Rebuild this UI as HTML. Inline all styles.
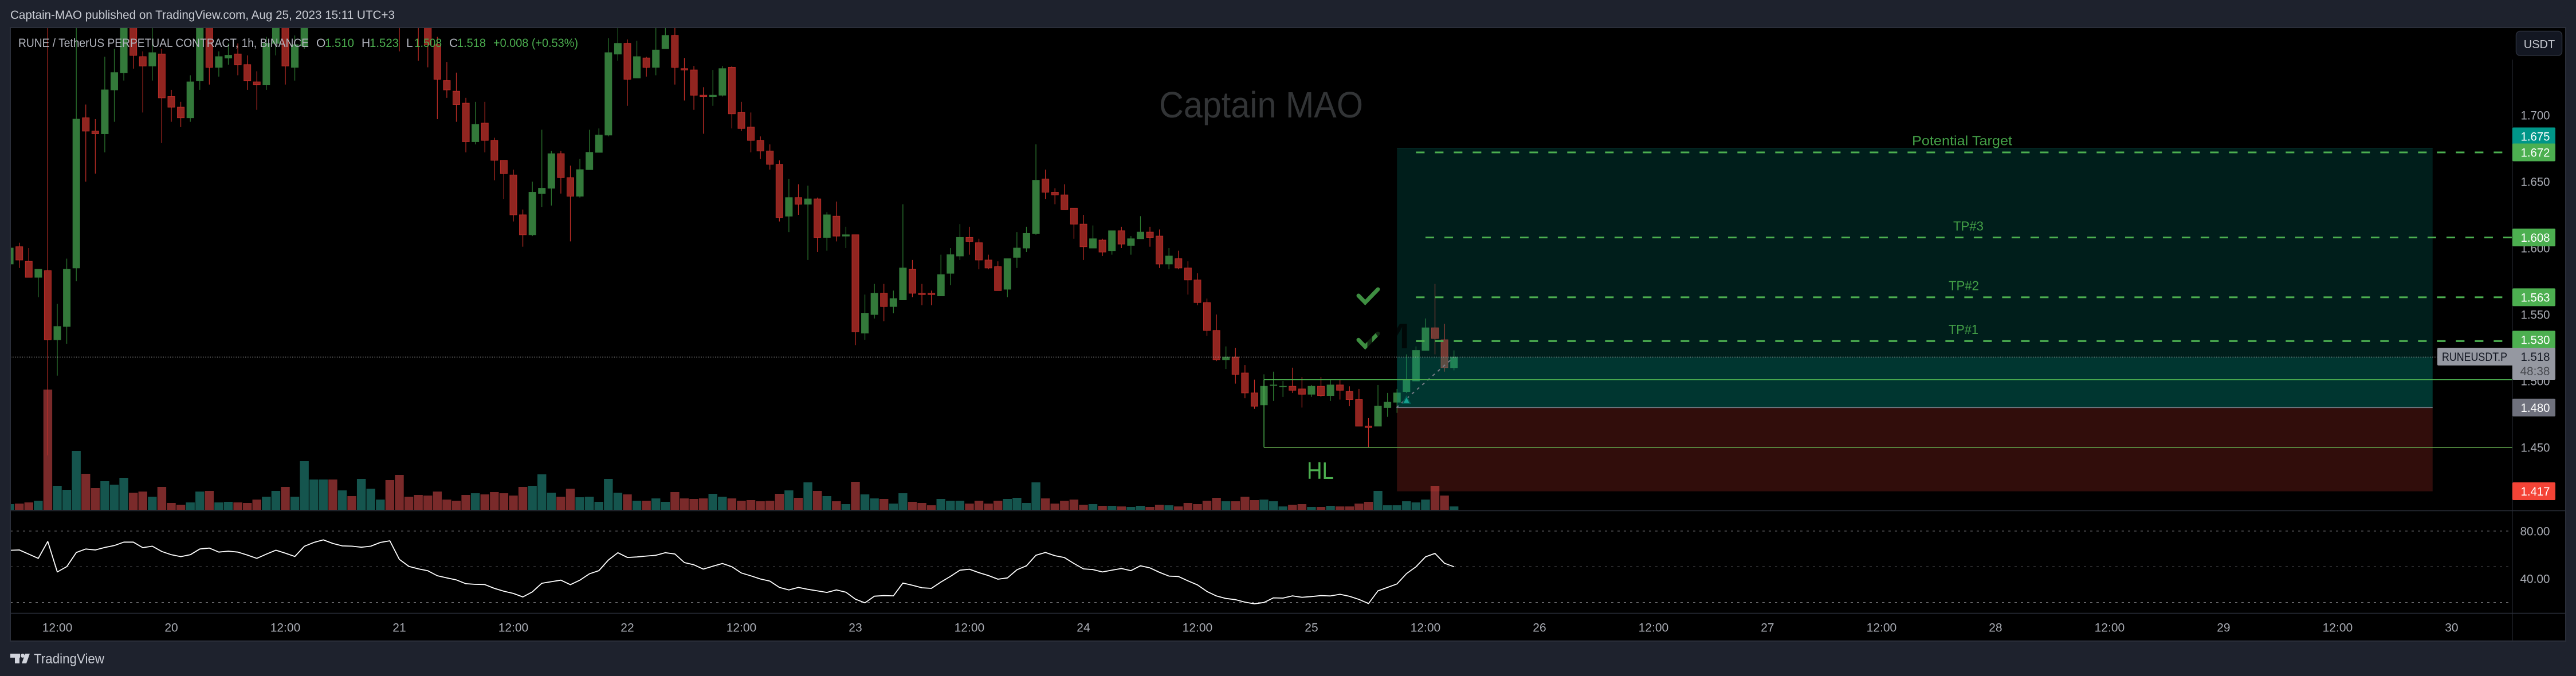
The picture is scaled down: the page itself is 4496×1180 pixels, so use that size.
<!DOCTYPE html>
<html lang="en">
<head>
<meta charset="utf-8">
<title>RUNEUSDT.P chart</title>
<style>
html,body{margin:0;padding:0;background:#1e222d;width:4496px;height:1180px;overflow:hidden}
svg{display:block}
text{font-family:"Liberation Sans",sans-serif}
</style>
</head>
<body>
<svg id="chart" width="4496" height="1180" viewBox="0 0 4496 1180" xmlns="http://www.w3.org/2000/svg">
  <defs>
    <clipPath id="main-clip"><rect x="19" y="49" width="4366" height="842"/></clipPath>
    <clipPath id="rsi-clip"><rect x="19" y="892" width="4366" height="178"/></clipPath>
  </defs>
  <rect x="0" y="0" width="4496" height="1180" fill="#1e222d"/>
  <text x="18" y="33" font-size="21" fill="#c9ccd4" textLength="671" lengthAdjust="spacingAndGlyphs">Captain-MAO published on TradingView.com, Aug 25, 2023 15:11 UTC+3</text>
  <rect x="18" y="48" width="4460" height="1071" fill="#000" stroke="#2a2e39" stroke-width="2"/>
  <g id="main-pane" clip-path="url(#main-clip)">
    <text x="2023" y="205" font-size="64" fill="#323436" textLength="356" lengthAdjust="spacingAndGlyphs">Captain MAO</text>
    <g id="volume-layer"></g>
    <g id="candle-layer"></g>
    <g id="overlay-layer"></g>
    <g id="drawing-layer"></g>
  </g>
  <g id="rsi-pane" clip-path="url(#rsi-clip)"></g>
  <line x1="18" y1="891.5" x2="4478" y2="891.5" stroke="#2a2e39" stroke-width="1.5"/>
  <line x1="18" y1="1070.5" x2="4478" y2="1070.5" stroke="#2a2e39" stroke-width="1.5"/>
  <line x1="4385" y1="104" x2="4385" y2="1119" stroke="#2a2e39" stroke-width="1"/>
  <g id="axis-layer"></g>
  <g font-size="21">
    <text x="32" y="82" fill="#b2b5be" textLength="507" lengthAdjust="spacingAndGlyphs">RUNE / TetherUS PERPETUAL CONTRACT, 1h, BINANCE</text>
    <text x="552" y="82" fill="#b2b5be">O</text>
    <text x="567" y="82" fill="#4caf50" textLength="51" lengthAdjust="spacingAndGlyphs">1.510</text>
    <text x="631" y="82" fill="#b2b5be">H</text>
    <text x="645" y="82" fill="#4caf50" textLength="51" lengthAdjust="spacingAndGlyphs">1.523</text>
    <text x="709" y="82" fill="#b2b5be">L</text>
    <text x="723" y="82" fill="#4caf50" textLength="48" lengthAdjust="spacingAndGlyphs">1.508</text>
    <text x="784" y="82" fill="#b2b5be">C</text>
    <text x="798" y="82" fill="#4caf50" textLength="50" lengthAdjust="spacingAndGlyphs">1.518</text>
    <text x="861" y="82" fill="#4caf50" textLength="148" lengthAdjust="spacingAndGlyphs">+0.008 (+0.53%)</text>
  </g>
  <g>
    <rect x="4391.5" y="54.5" width="80" height="42.5" rx="7" fill="#131722" stroke="#2a2e39" stroke-width="1.5"/>
    <text x="4432" y="84" font-size="20" fill="#c3c6ce" text-anchor="middle">USDT</text>
  </g>
  <g>
    <rect x="18" y="1141" width="17" height="7" fill="#d1d4dc"/>
    <rect x="26" y="1141" width="8" height="17" fill="#d1d4dc"/>
    <circle cx="39.5" cy="1144.5" r="3.5" fill="#d1d4dc"/>
    <polygon points="44,1141 52,1141 46,1158 38,1158" fill="#d1d4dc"/>
    <text x="59" y="1158" font-size="24" fill="#c9ccd4" textLength="123" lengthAdjust="spacingAndGlyphs">TradingView</text>
  </g>
</svg>
<script>
const firstIndex = -5;
const opens = [1.588,1.601,1.590,1.578,1.583,
1.531,1.541,1.585,1.698,1.688,1.686,1.719,1.732,1.775,1.744,
1.737,1.746,1.714,1.706,1.698,1.726,1.775,1.736,1.743,1.746,
1.738,1.725,1.723,1.754,1.775,1.736,1.752,1.78,1.80,1.82,
1.81,1.83,1.82,1.84,1.86,1.88,1.85,1.81,1.79,1.78,
1.753,1.726,1.718,1.709,1.680,1.694,1.681,1.666,1.655,1.625,
1.610,1.641,1.645,1.671,1.653,1.639,1.659,1.672,1.685,1.746,
1.754,1.728,1.743,1.736,1.750,1.760,1.735,1.734,1.715,1.714,
1.715,1.736,1.702,1.691,1.681,1.673,1.663,1.624,1.638,1.633,
1.637,1.608,1.624,1.609,1.610,1.536,1.550,1.566,1.556,1.561,
1.584,1.566,1.566,1.564,1.581,1.594,1.608,1.604,1.591,1.586,
1.569,1.593,1.600,1.611,1.652,1.642,1.640,1.630,1.618,1.600,
1.606,1.598,1.613,1.602,1.607,1.612,1.609,1.588,1.592,1.585,
1.576,1.559,1.538,1.516,1.518,1.506,1.491,1.482,1.497,1.496,
1.496,1.494,1.490,1.496,1.489,1.497,1.492,1.486,1.466,1.466,
1.480,1.484,1.492,1.500,1.523,1.540,1.531,1.510];
const closes = [1.600,1.591,1.578,1.584,1.531,
1.541,1.584,1.697,1.688,1.686,1.719,1.732,1.775,1.745,1.737,
1.747,1.713,1.706,1.698,1.725,1.775,1.736,1.744,1.745,1.738,
1.726,1.723,1.754,1.775,1.737,1.753,1.775,1.80,1.82,1.81,
1.83,1.82,1.84,1.86,1.88,1.85,1.81,1.79,1.78,1.753,
1.727,1.719,1.708,1.680,1.693,1.681,1.666,1.656,1.625,1.610,
1.642,1.645,1.671,1.653,1.639,1.659,1.672,1.685,1.747,1.754,
1.727,1.744,1.736,1.749,1.760,1.736,1.734,1.715,1.714,1.715,
1.735,1.701,1.690,1.681,1.673,1.663,1.623,1.638,1.633,1.637,
1.608,1.625,1.609,1.610,1.537,1.551,1.566,1.556,1.562,1.585,
1.566,1.565,1.565,1.580,1.595,1.608,1.605,1.591,1.585,1.568,
1.592,1.600,1.611,1.651,1.642,1.640,1.629,1.618,1.601,1.607,
1.597,1.613,1.603,1.607,1.612,1.608,1.588,1.594,1.585,1.576,
1.559,1.538,1.516,1.518,1.505,1.491,1.481,1.496,1.497,1.496,
1.493,1.490,1.496,1.489,1.497,1.493,1.486,1.466,1.465,1.481,
1.484,1.491,1.501,1.523,1.540,1.532,1.510,1.518];
const highs = [1.607,1.604,1.600,1.584,1.80,
1.558,1.592,1.78,1.708,1.697,1.744,1.750,1.785,1.785,1.748,
1.775,1.750,1.719,1.710,1.730,1.785,1.785,1.748,1.754,1.754,
1.745,1.733,1.759,1.785,1.785,1.760,1.785,1.81,1.83,1.83,
1.84,1.84,1.85,1.87,1.89,1.89,1.86,1.82,1.80,1.79,
1.759,1.740,1.732,1.713,1.710,1.710,1.683,1.666,1.659,1.629,
1.650,1.689,1.673,1.673,1.662,1.667,1.689,1.690,1.758,1.775,
1.757,1.756,1.744,1.775,1.775,1.775,1.743,1.737,1.721,1.734,
1.737,1.737,1.710,1.702,1.684,1.678,1.666,1.652,1.648,1.647,
1.638,1.627,1.635,1.616,1.610,1.565,1.573,1.573,1.568,1.633,
1.591,1.573,1.568,1.595,1.600,1.618,1.616,1.607,1.595,1.590,
1.592,1.612,1.616,1.678,1.659,1.645,1.648,1.630,1.625,1.617,
1.607,1.613,1.616,1.609,1.624,1.616,1.614,1.600,1.598,1.590,
1.581,1.562,1.550,1.526,1.525,1.512,1.501,1.505,1.507,1.500,
1.510,1.503,1.497,1.503,1.501,1.501,1.496,1.494,1.472,1.497,
1.491,1.494,1.520,1.526,1.547,1.573,1.543,1.523];
const lows = [1.585,1.585,1.578,1.563,1.444,
1.504,1.528,1.575,1.650,1.656,1.672,1.695,1.726,1.735,1.702,
1.726,1.679,1.695,1.691,1.695,1.719,1.723,1.729,1.738,1.730,
1.719,1.704,1.719,1.745,1.723,1.726,1.750,1.77,1.79,1.80,
1.80,1.81,1.81,1.83,1.85,1.83,1.748,1.766,1.741,1.736,
1.697,1.713,1.695,1.672,1.678,1.672,1.651,1.637,1.620,1.601,
1.609,1.631,1.632,1.641,1.605,1.638,1.659,1.672,1.684,1.741,
1.707,1.728,1.729,1.730,1.750,1.723,1.711,1.704,1.686,1.707,
1.714,1.690,1.688,1.672,1.667,1.659,1.620,1.612,1.625,1.591,
1.597,1.598,1.605,1.600,1.527,1.531,1.547,1.545,1.551,1.561,
1.563,1.557,1.557,1.564,1.572,1.591,1.595,1.584,1.584,1.568,
1.563,1.585,1.597,1.610,1.637,1.633,1.629,1.607,1.591,1.600,
1.594,1.595,1.600,1.595,1.607,1.601,1.585,1.584,1.584,1.565,
1.557,1.534,1.515,1.509,1.498,1.487,1.479,1.482,1.485,1.488,
1.491,1.480,1.488,1.488,1.485,1.486,1.481,1.466,1.450,1.466,
1.473,1.476,1.491,1.500,1.523,1.520,1.507,1.508];
const volumes = [10,11,13,16,210,42,35,103,63,38,50,44,56,30,32,23,40,12,9,13,32,33,13,14,13,12,18,23,33,40,23,85,53,53,53,34,24,54,37,18,52,61,23,26,25,32,18,16,26,29,27,31,29,25,40,42,62,30,23,37,22,23,14,54,30,27,16,16,20,14,31,20,
19,20,28,23,20,16,17,15,16,28,34,21,48,33,24,15,10,49,27,20,19,11,29,14,12,8,19,16,16,11,16,11,16,19,21,12,48,20,11,16,18,9,10,7,7,6,5,7,5,9,8,6,12,10,16,21,15,15,23,17,18,15,6,9,10,5,5,7,6,6,11,14,33,8,8,15,13,18,42,25,6];
const rsiValues = [63.8,64.1,60.6,57.0,71.3,45.6,50.1,62.0,64.9,64.1,66.2,67.8,70.7,70.7,66.0,67.3,62.8,60.1,58.5,60.1,64.9,65.7,62.3,63.1,62.3,59.8,57.0,60.6,63.9,61.4,58.6,67.2,70.4,72.6,69.6,67.5,67.3,66.4,67.3,70.4,71.8,56.2,50.3,48.2,46.6,42.4,40.6,38.9,35.7,35.2,35.0,31.8,29.4,27.5,24.6,28.8,36.1,37.4,38.7,34.9,38.7,44.0,46.7,55.6,61.8,57.8,58.2,59.0,59.6,61.8,60.7,53.5,
51.6,48.0,50.4,52.7,50.0,44.7,42.3,39.7,37.9,32.6,30.5,32.6,31.0,29.7,28.4,30.5,28.6,22.7,19.6,25.2,25.7,25.5,36.3,34.4,32.3,31.8,37.1,41.9,47.1,47.9,45.0,42.6,39.5,40.6,47.4,50.8,59.6,62.0,59.3,57.7,52.7,48.2,47.6,45.6,47.1,48.5,46.7,50.8,49.0,45.3,42.1,41.8,38.1,34.7,29.2,25.4,23.3,22.3,20.2,18.8,19.9,23.8,23.6,25.5,24.3,24.9,25.7,25.4,26.8,25.1,22.5,19.0,29.7,32.6,35.5,44.2,50.0,58.3,61.2,52.9,50.0];
const priceTicks = [1.700,1.650,1.600,1.550,1.500,1.450];
const rsiBands = [80,50,20];
const rsiTicks = [80,40];
const timeLabels = ['12:00','20','12:00','21','12:00','22','12:00','23','12:00','24','12:00','25','12:00','26','12:00','27','12:00','28','12:00','29','12:00','30'];
const targetLevels = [1.672,1.608,1.563,1.530];
const targetStarts = [143,144,143,143];
const targetNames = ['Potential Target','TP#3','TP#2','TP#1'];
const lastClose = 1.518;
const entryPrice = 1.480;
const stopPrice = 1.417;
const profitPrice = 1.675;
const boxTop = 1.501;
const boxBottom = 1.450;

const SVG_NS = 'http://www.w3.org/2000/svg';
function xAt(i){ return 100 + i * 16.583; }
function yAt(p){ return 201 + (1.7 - p) * 2320; }
function volY(v){ return 890 - v; }
function rsiY(v){ return 927 + (80 - v) * 2.075; }
function make(tag, attrs, parent, txt){
  const el = document.createElementNS(SVG_NS, tag);
  for (const k in attrs) el.setAttribute(k, attrs[k]);
  if (txt !== undefined) el.textContent = txt;
  parent.appendChild(el);
  return el;
}

const volumeLayer = document.getElementById('volume-layer');
const candleLayer = document.getElementById('candle-layer');
const overlayLayer = document.getElementById('overlay-layer');
const drawingLayer = document.getElementById('drawing-layer');
const rsiPane = document.getElementById('rsi-pane');
const axisLayer = document.getElementById('axis-layer');

/* Volume bars */
volumes.forEach(function(v, n){
  const x = xAt(firstIndex + n);
  const up = closes[n] >= opens[n];
  const bar = make('rect', {x: x - 7.7, y: volY(v), width: 15.4, height: v, fill: up ? '#15554e' : '#7a2a2a'}, volumeLayer);
  
  
});

/* Candles */
opens.forEach(function(o, n){
  const x = xAt(firstIndex + n);
  const c = closes[n];
  const up = c >= o;
  const wick = make('line', {x1: x, x2: x, y1: yAt(highs[n]), y2: yAt(lows[n]), stroke: up ? '#2e7d32' : '#c62f28', 'stroke-width': 1.2}, candleLayer);
  
  
  const top = yAt(Math.max(o, c));
  const h = Math.max(Math.abs(yAt(o) - yAt(c)), 1);
  const body = make('rect', {x: x - 6, y: top, width: 12, height: h, fill: up ? '#33793a' : '#912520', stroke: up ? '#33793a' : '#b92c28', 'stroke-width': 1}, candleLayer);
  
  
});

/* Long position tool */
const posStart = xAt(141);
const posEnd = xAt(250);
const profitZone = make('rect', {x: posStart, y: yAt(profitPrice), width: posEnd - posStart, height: yAt(entryPrice) - yAt(profitPrice), fill: 'rgba(0,150,136,0.2)'}, overlayLayer);


const activeZone = make('rect', {x: posStart, y: yAt(lastClose), width: posEnd - posStart, height: yAt(entryPrice) - yAt(lastClose), fill: 'rgba(0,150,136,0.2)'}, overlayLayer);


const stopZone = make('rect', {x: posStart, y: yAt(entryPrice), width: posEnd - posStart, height: yAt(stopPrice) - yAt(entryPrice), fill: 'rgba(244,67,54,0.2)'}, overlayLayer);


const profitEdge = make('line', {x1: posStart, x2: posEnd, y1: yAt(profitPrice), y2: yAt(profitPrice), stroke: '#06332f', 'stroke-width': 1}, overlayLayer);


const entryLine = make('line', {x1: posStart, x2: posEnd, y1: yAt(entryPrice), y2: yAt(entryPrice), stroke: '#787b86', 'stroke-width': 1.5}, overlayLayer);


const tradeLine = make('line', {x1: posStart - 1, x2: xAt(147), y1: yAt(entryPrice), y2: yAt(lastClose), stroke: '#787b86', 'stroke-width': 2, 'stroke-dasharray': '5 7'}, overlayLayer);


const entryMarker = make('polygon', {points: [xAt(142), 692, xAt(142) + 6.5, 704, xAt(142) - 6.5, 704].join(' '), fill: '#17a392', stroke: '#00594f', 'stroke-width': 2}, overlayLayer);



/* Last price dotted line */
const lastLine = make('line', {x1: 18, x2: 4254, y1: yAt(lastClose), y2: yAt(lastClose), stroke: '#b8b8b8', 'stroke-width': 1, 'stroke-dasharray': '1.5 2.6'}, drawingLayer);



/* HL box */
const boxLeft = xAt(127);
const boxTopLine = make('line', {x1: boxLeft, x2: 4385, y1: yAt(boxTop), y2: yAt(boxTop), stroke: '#4caf50', 'stroke-width': 1.4}, drawingLayer);


const boxBottomLine = make('line', {x1: boxLeft, x2: 4385, y1: yAt(boxBottom), y2: yAt(boxBottom), stroke: '#63a84e', 'stroke-width': 1.4}, drawingLayer);


const boxLeftLine = make('line', {x1: boxLeft, x2: boxLeft, y1: yAt(boxTop), y2: yAt(boxBottom), stroke: '#4caf50', 'stroke-width': 1.4}, drawingLayer);


const hlLabel = make('text', {x: 2281, y: 836, 'font-size': 42, fill: '#4caf50', textLength: 47, lengthAdjust: 'spacingAndGlyphs'}, drawingLayer, 'HL');



/* Target dashed lines and labels */
const targetTextX = [3337, 3409, 3401, 3401];
const targetTextW = [175, 53, 53, 52];
const targetTextLift = [12.5, 12, 12.5, 12.5];
targetLevels.forEach(function(p, n){
  const endX = n === 1 ? 4385 : 4368;
  const dash = make('line', {x1: xAt(targetStarts[n]), x2: endX, y1: yAt(p), y2: yAt(p), stroke: '#4caf50', 'stroke-width': 3, 'stroke-dasharray': '15 18'}, drawingLayer);
  
  
  const label = make('text', {x: targetTextX[n], y: yAt(p) - targetTextLift[n], 'font-size': 23, fill: '#43a047', textLength: targetTextW[n], lengthAdjust: 'spacingAndGlyphs'}, drawingLayer, targetNames[n]);
  
  
});

/* Check marks */
const checkOffsets = [0, 77.3];
checkOffsets.forEach(function(dy){
  const check = make('polyline', {points: [2371, 516 + dy, 2382.7, 528 + dy, 2405, 505 + dy].join(' '), fill: 'none', stroke: '#3e8e41', 'stroke-width': 7, 'stroke-linecap': 'round', 'stroke-linejoin': 'miter'}, drawingLayer);
  
  
});
const darkM = make('text', {x: 2378, y: 608, 'font-size': 62, fill: '#000', opacity: 0.72, textLength: 86, lengthAdjust: 'spacingAndGlyphs'}, drawingLayer, 'M');



/* RSI */
rsiBands.forEach(function(v, n){
  const band = make('line', {x1: 18, x2: 4380, y1: rsiY(v), y2: rsiY(v), stroke: n === 1 ? '#5a5a5e' : '#7c7c80', 'stroke-width': 1, 'stroke-dasharray': '4 7'}, rsiPane);
  
  
});
const rsiLine = make('polyline', {points: rsiValues.map(function(v, n){ return xAt(firstIndex + n).toFixed(1) + ',' + rsiY(v).toFixed(1); }).join(' '), fill: 'none', stroke: '#ffffff', 'stroke-width': 1.8, 'stroke-linejoin': 'round'}, rsiPane);



/* Axes */
priceTicks.forEach(function(p){
  const t = make('text', {x: 4399.5, y: yAt(p) + 7.5, 'font-size': 21, fill: '#a9acb4', textLength: 51, lengthAdjust: 'spacingAndGlyphs'}, axisLayer, p.toFixed(3));
  
  
});
rsiTicks.forEach(function(v){
  const t = make('text', {x: 4398.5, y: rsiY(v) + 7.5, 'font-size': 21, fill: '#a9acb4', textLength: 52, lengthAdjust: 'spacingAndGlyphs'}, axisLayer, v.toFixed(2));
  
  
});
timeLabels.forEach(function(s, n){
  const t = make('text', {x: xAt(n * 12), y: 1102.5, 'font-size': 21, fill: '#a9acb4', 'text-anchor': 'middle'}, axisLayer, s);
  
  
});

/* Price axis labels */
const levelPrices = [profitPrice, targetLevels[0], targetLevels[1], targetLevels[2], targetLevels[3], entryPrice, stopPrice];
const levelColors = ['#009688', '#4caf50', '#4caf50', '#4caf50', '#4caf50', '#6f717d', '#f44336'];
const levelShift = [-21, 0, 0, 0, -2.5, 0, 0];
levelPrices.forEach(function(p, n){
  const cy = yAt(p) + levelShift[n];
  const box = make('rect', {x: 4385, y: cy - 15.5, width: 75, height: 31, rx: 2, fill: levelColors[n]}, axisLayer);
  
  
  const txt = make('text', {x: 4399.5, y: cy + 7.5, 'font-size': 21, fill: '#ffffff', textLength: 51, lengthAdjust: 'spacingAndGlyphs'}, axisLayer, p.toFixed(3));
  
  
});
const symbolBox = make('rect', {x: 4254, y: 607, width: 134, height: 31, rx: 2, fill: '#9598a1'}, axisLayer);


const lastBox = make('rect', {x: 4385, y: 607, width: 75, height: 56, rx: 2, fill: '#9598a1'}, axisLayer);


const symbolText = make('text', {x: 4262, y: 630, 'font-size': 21, fill: '#131722', textLength: 114, lengthAdjust: 'spacingAndGlyphs'}, axisLayer, 'RUNEUSDT.P');


const lastText = make('text', {x: 4399.5, y: 630, 'font-size': 21, fill: '#131722', textLength: 51, lengthAdjust: 'spacingAndGlyphs'}, axisLayer, lastClose.toFixed(3));


const countdownText = make('text', {x: 4398.5, y: 655, 'font-size': 21, fill: '#4a4c52', textLength: 52, lengthAdjust: 'spacingAndGlyphs'}, axisLayer, '48:38');


</script>
</body>
</html>
